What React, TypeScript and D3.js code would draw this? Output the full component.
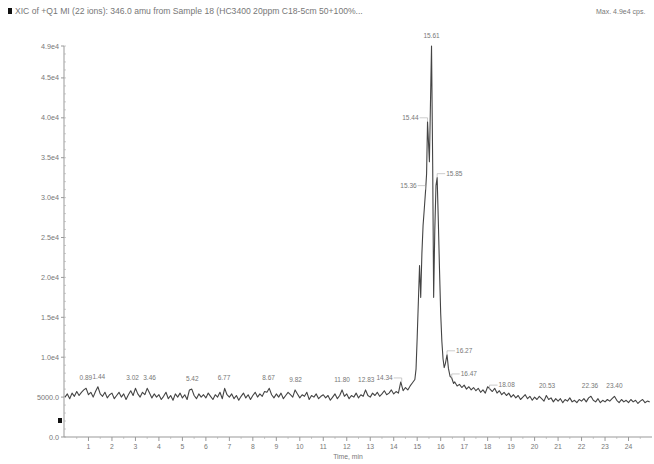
import { useMemo } from 'react'
import * as d3 from 'd3'

const WIDTH = 654
const HEIGHT = 464
const MARGIN = { top: 46, right: 2, bottom: 27, left: 64 }

// intensities (cps) from 0.0 to 14.8 min, one point every 0.1 min
const BASELINE_START = [
  5000, 5400, 4800, 5500, 5100, 5700, 5200, 5600, 5900, 6100,
  5300, 5600, 5000, 5700, 6300, 5400, 5100, 5600, 4900, 5300,
  5500, 4800, 5200, 5600, 5000, 5400, 4700, 5300, 5800, 5200,
  6100, 5400, 5000, 5600, 5300, 6100, 5500, 4900, 5400, 5000,
  5300, 4700, 5100, 5600, 4800, 5200, 4600, 5400, 5000, 5500,
  4900, 5300, 4700, 5900, 6000, 5200, 4800, 5400, 5000, 5300,
  4900, 5500, 5100, 4700, 5300, 5000, 5600, 4800, 6100, 5300,
  5000, 5400, 4800, 5200, 4600, 5100, 5500, 4900, 5300, 4700,
  5200, 5600, 5000, 5400, 5100, 5700, 5600, 6100, 5300, 4900,
  5400, 5000, 5500, 4800, 5200, 5600, 5300, 5000, 5900, 5400,
  4900, 5300, 5100, 5600, 4700, 5200, 5000, 5400, 4800, 5100,
  5300, 4900, 5200, 4600, 5000, 5400, 4800, 5200, 5900, 5100,
  5400, 4800, 5200, 5000, 5500, 4900, 5300, 5100, 5900, 5200,
  5000, 5500, 5200, 5600, 5100, 5400, 5800, 5300, 5500, 5900,
  5400, 5700, 5500, 6900, 5800, 6200, 5900, 6400, 6800
]

// the main peak, sampled more finely
const PEAK_TIMES = [
  14.9, 14.95, 15.0, 15.05, 15.1, 15.15, 15.2, 15.25, 15.3, 15.36,
  15.4, 15.44, 15.48, 15.52, 15.56, 15.61, 15.66, 15.7, 15.75, 15.8,
  15.85, 15.9, 15.95, 16.0, 16.05, 16.1, 16.15, 16.2, 16.27, 16.33,
  16.4, 16.47, 16.55
]
const PEAK_VALUES = [
  7200, 8500, 12500, 17000, 21500, 17500, 23000, 26500, 28500, 31000,
  33000, 39500, 37000, 34500, 41000, 49000, 34000, 17500, 26000, 31500,
  32500, 27000, 21000, 15500, 12000, 9800, 8700, 9200, 10300, 8600,
  7600, 7400, 6700
]

// intensities from 16.6 to 24.9 min, every 0.1 min
const BASELINE_END = [
  6900, 6400, 6600, 6200,
  6500, 6000, 6300, 5900, 6200, 5800, 6100, 5600, 5900, 5500,
  6300, 6000, 5700, 6100, 5500, 5800, 5300, 5600, 5200, 5500,
  5000, 5300, 4900, 5200, 4700, 5000, 5300, 4800, 5100, 4600,
  5000, 4700, 5100, 4800, 4500, 5200, 4700, 4900, 4400, 4800,
  4500, 4800, 4300, 4700, 4500, 4900, 4400, 4600, 4300, 4700,
  4500, 4800, 4400, 4900, 5100, 4600, 4400, 4800, 4300, 4600,
  4400, 4700, 4500, 4800, 5100, 4600, 4300, 4700, 4400, 4600,
  4300, 4700, 4400, 4600, 4200, 4500, 4700, 4300, 4500, 4400
]

const PEAK_LABELS = [0.89, 1.44, 3.02, 3.46, 5.42, 6.77, 8.67, 9.82, 11.8, 12.83, 14.34, 15.36, 15.44, 15.61, 15.85, 16.27, 16.47, 18.08, 20.53, 22.36, 23.4]
// c = centred above the apex, ce/cs = pinned to the apex from the left/right, l/r = with a leader
const LABEL_SIDE = ['c', 'c', 'ce', 'cs', 'c', 'c', 'c', 'c', 'c', 'c', 'l', 'l', 'l', 'c', 'r', 'r', 'r', 'r', 'c', 'c', 'c']

const Y_TICKS = [0, 5000, 10000, 15000, 20000, 25000, 30000, 35000, 40000, 45000, 49000]
const Y_TICK_LABELS = ['0.0', '5000.0', '1.0e4', '1.5e4', '2.0e4', '2.5e4', '3.0e4', '3.5e4', '4.0e4', '4.5e4', '4.9e4']
const X_TICKS = d3.range(1, 25)

const TITLE = 'XIC of +Q1 MI (22 ions): 346.0 amu from Sample 18 (HC3400 20ppm C18-5cm 50+100%...'
const MAX_TEXT = 'Max. 4.9e4 cps.'

const FONT = '"Liberation Sans", Arial, sans-serif'
const TEXT_COLOR = '#777'

export default function App() {
  const series = useMemo(() => {
    const a = BASELINE_START.map((v, i) => ({ t: i / 10, v }))
    const b = PEAK_TIMES.map((t, i) => ({ t, v: PEAK_VALUES[i] }))
    const c = BASELINE_END.map((v, i) => ({ t: 16.6 + i / 10, v }))
    return [...a, ...b, ...c]
  }, [])

  const x = d3.scaleLinear().domain([0, 25]).range([MARGIN.left + 1, WIDTH - MARGIN.right])
  const y = d3.scaleLinear().domain([0, 49000]).range([HEIGHT - MARGIN.bottom, MARGIN.top])

  const line = d3.line<{ t: number; v: number }>()
    .x(d => x(d.t))
    .y(d => y(d.v))

  const valueAt = (t: number) => {
    const i = d3.minIndex(series, d => Math.abs(d.t - t))
    return series[i].v
  }

  const x0 = MARGIN.left
  const yBase = HEIGHT - MARGIN.bottom
  const minorY = d3.range(0, 49001, 1000)

  return (
    <svg width={WIDTH} height={HEIGHT} style={{ position: 'absolute', left: 0, top: 0, background: '#fff' }} fontFamily={FONT}>
      {/* header */}
      <rect x={8} y={8} width={4} height={6} fill="#111" />
      <text x={15} y={14} fontSize={8.6} fill={TEXT_COLOR}>{TITLE}</text>
      <text x={596} y={14} fontSize={7} fill={TEXT_COLOR}>{MAX_TEXT}</text>

      {/* y axis */}
      <line x1={x0} x2={x0} y1={MARGIN.top} y2={yBase} stroke="#999" />
      {minorY.map(t => (
        <line key={`my-${t}`} x1={x0} x2={x0 + 2} y1={y(t)} y2={y(t)} stroke="#aaa" strokeWidth={0.6} />
      ))}
      {Y_TICKS.map((t, i) => (
        <g key={`yt-${t}`}>
          <line x1={x0 - 3} x2={x0} y1={y(t)} y2={y(t)} stroke="#999" />
          <text x={x0 - 5} y={y(t) + 2.5} fontSize={7.2} fill={TEXT_COLOR} textAnchor="end">{Y_TICK_LABELS[i]}</text>
        </g>
      ))}

      {/* x axis */}
      <line x1={x0} x2={WIDTH - MARGIN.right} y1={yBase} y2={yBase} stroke="#999" />
      {X_TICKS.map(t => (
        <g key={`xt-${t}`}>
          <line x1={x(t)} x2={x(t)} y1={yBase} y2={yBase + 4} stroke="#999" />
          <text x={x(t)} y={yBase + 12} fontSize={6.8} fill={TEXT_COLOR} textAnchor="middle">{t}</text>
        </g>
      ))}
      {d3.range(0.5, 25, 1).map(t => (
        <line key={`mx-${t}`} x1={x(t)} x2={x(t)} y1={yBase} y2={yBase + 2} stroke="#aaa" strokeWidth={0.6} />
      ))}
      <text x={348} y={yBase + 22} fontSize={6.8} fill={TEXT_COLOR} textAnchor="middle">Time, min</text>

      {/* marker at left */}
      <rect x={58} y={418} width={4} height={5} fill="#111" />

      {/* trace */}
      <path d={line(series) ?? ''} fill="none" stroke="#444" strokeWidth={1.1} strokeLinejoin="round" />

      {/* peak labels */}
      {PEAK_LABELS.map((t, i) => {
        const px = x(t)
        const py = y(valueAt(t))
        const side = LABEL_SIDE[i]
        if (side.startsWith('c')) {
          const anchor = side === 'ce' ? 'end' : side === 'cs' ? 'start' : 'middle'
          const tx = side === 'ce' ? px + 3 : side === 'cs' ? px - 3 : px
          return (
            <text key={`pl-${t}`} x={tx} y={py - 8} fontSize={6.5} fill={TEXT_COLOR} textAnchor={anchor}>{t.toFixed(2)}</text>
          )
        }
        const dir = side === 'l' ? -1 : 1
        const lx = px + dir * 8
        return (
          <g key={`pl-${t}`}>
            <polyline points={`${px},${py} ${px},${py - 4} ${lx},${py - 4}`} fill="none" stroke="#aaa" strokeWidth={0.6} />
            <text x={lx + dir * 1} y={py - 2} fontSize={6.5} fill={TEXT_COLOR} textAnchor={side === 'l' ? 'end' : 'start'}>{t.toFixed(2)}</text>
          </g>
        )
      })}
    </svg>
  )
}
